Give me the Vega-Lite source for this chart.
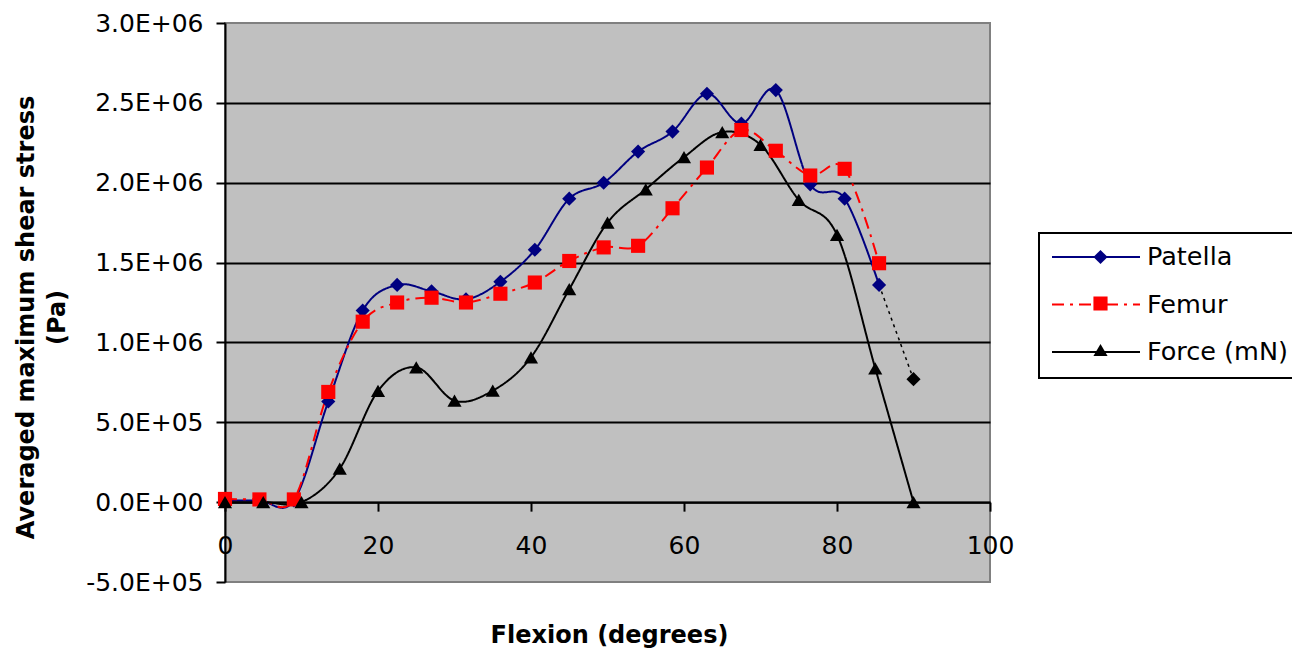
{
  "$schema": "https://vega.github.io/schema/vega-lite/v6.json",
  "width": 765,
  "height": 559,
  "autosize": {"type": "none"},
  "padding": {"left": 225, "top": 23, "right": 302, "bottom": 66},
  "background": "white",
  "config": {
    "font": "DejaVu Sans",
    "view": {"fill": "#C0C0C0", "stroke": "#808080", "strokeWidth": 2},
    "legend": {"strokeWidth": 2}
  },
  "datasets": {
    "series": [
      {"series": "Patella", "flexion": 0, "value": 10000},
      {"series": "Patella", "flexion": 4.5, "value": 10000},
      {"series": "Patella", "flexion": 9, "value": 10000},
      {"series": "Patella", "flexion": 13.5, "value": 630000},
      {"series": "Patella", "flexion": 18, "value": 1200000},
      {"series": "Patella", "flexion": 22.5, "value": 1360000},
      {"series": "Patella", "flexion": 27, "value": 1320000},
      {"series": "Patella", "flexion": 31.5, "value": 1270000},
      {"series": "Patella", "flexion": 36, "value": 1380000},
      {"series": "Patella", "flexion": 40.5, "value": 1580000},
      {"series": "Patella", "flexion": 45, "value": 1900000},
      {"series": "Patella", "flexion": 49.5, "value": 2000000},
      {"series": "Patella", "flexion": 54, "value": 2195000},
      {"series": "Patella", "flexion": 58.5, "value": 2320000},
      {"series": "Patella", "flexion": 63, "value": 2557000},
      {"series": "Patella", "flexion": 67.5, "value": 2370000},
      {"series": "Patella", "flexion": 72, "value": 2580000},
      {"series": "Patella", "flexion": 76.5, "value": 1990000},
      {"series": "Patella", "flexion": 81, "value": 1900000},
      {"series": "Patella", "flexion": 85.5, "value": 1360000},
      {"series": "Femur", "flexion": 0, "value": 20000},
      {"series": "Femur", "flexion": 4.5, "value": 17000},
      {"series": "Femur", "flexion": 9, "value": 17000},
      {"series": "Femur", "flexion": 13.5, "value": 690000},
      {"series": "Femur", "flexion": 18, "value": 1130000},
      {"series": "Femur", "flexion": 22.5, "value": 1250000},
      {"series": "Femur", "flexion": 27, "value": 1280000},
      {"series": "Femur", "flexion": 31.5, "value": 1250000},
      {"series": "Femur", "flexion": 36, "value": 1305000},
      {"series": "Femur", "flexion": 40.5, "value": 1375000},
      {"series": "Femur", "flexion": 45, "value": 1510000},
      {"series": "Femur", "flexion": 49.5, "value": 1595000},
      {"series": "Femur", "flexion": 54, "value": 1605000},
      {"series": "Femur", "flexion": 58.5, "value": 1840000},
      {"series": "Femur", "flexion": 63, "value": 2095000},
      {"series": "Femur", "flexion": 67.5, "value": 2330000},
      {"series": "Femur", "flexion": 72, "value": 2200000},
      {"series": "Femur", "flexion": 76.5, "value": 2045000},
      {"series": "Femur", "flexion": 81, "value": 2087000},
      {"series": "Femur", "flexion": 85.5, "value": 1496000},
      {"series": "Force (mN)", "flexion": 0, "value": 0},
      {"series": "Force (mN)", "flexion": 5, "value": 0},
      {"series": "Force (mN)", "flexion": 10, "value": 0},
      {"series": "Force (mN)", "flexion": 15, "value": 210000},
      {"series": "Force (mN)", "flexion": 20, "value": 696000},
      {"series": "Force (mN)", "flexion": 25, "value": 844000},
      {"series": "Force (mN)", "flexion": 30, "value": 635000},
      {"series": "Force (mN)", "flexion": 35, "value": 698000},
      {"series": "Force (mN)", "flexion": 40, "value": 907000},
      {"series": "Force (mN)", "flexion": 45, "value": 1333000},
      {"series": "Force (mN)", "flexion": 50, "value": 1750000},
      {"series": "Force (mN)", "flexion": 55, "value": 1959000},
      {"series": "Force (mN)", "flexion": 60, "value": 2160000},
      {"series": "Force (mN)", "flexion": 65, "value": 2317000},
      {"series": "Force (mN)", "flexion": 70, "value": 2237000},
      {"series": "Force (mN)", "flexion": 75, "value": 1892000},
      {"series": "Force (mN)", "flexion": 80, "value": 1673000},
      {"series": "Force (mN)", "flexion": 85, "value": 838000},
      {"series": "Force (mN)", "flexion": 90, "value": 0}
    ],
    "ext": [
      {"flexion": 85.5, "value": 1360000},
      {"flexion": 90, "value": 770000}
    ]
  },
  "layer": [
    {
      "data": {"name": "series"},
      "mark": {"type": "line", "interpolate": "cardinal", "tension": 0, "strokeWidth": 2},
      "encoding": {
        "x": {
          "field": "flexion", "type": "quantitative",
          "scale": {"domain": [0, 100], "nice": false, "zero": false},
          "axis": {
            "title": "Flexion (degrees)",
            "values": [0, 20, 40, 60, 80, 100],
            "offset": -79.857,
            "grid": false,
            "domainColor": "black", "domainWidth": 2,
            "tickColor": "black", "tickWidth": 2, "tickSize": 9,
            "labelFontSize": 25, "labelColor": "black", "labelFlush": false,
            "labelBaseline": "alphabetic", "labelPadding": 42,
            "titleFontSize": 24, "titleFontWeight": "bold", "titleColor": "black",
            "titleBaseline": "alphabetic", "titleAlign": "center", "titleX": 384, "titleY": 140
          }
        },
        "y": {
          "field": "value", "type": "quantitative",
          "scale": {"domain": [-500000, 3000000], "nice": false, "zero": false},
          "axis": {
            "title": ["Averaged maximum shear stress", "(Pa)"],
            "values": [-500000, 0, 500000, 1000000, 1500000, 2000000, 2500000, 3000000],
            "labelExpr": "replace(replace(replace(format(datum.value, '.1e'), 'e+', 'E+0'), 'e-', 'E-0'), '\u2212', '-')",
            "domainColor": "black", "domainWidth": 2,
            "tickColor": "black", "tickWidth": 2, "tickSize": 9,
            "labelFontSize": 25, "labelColor": "black", "labelPadding": 13, "labelFlush": false,
            "grid": true, "gridColor": "black", "gridWidth": 2,
            "gridOpacity": {"condition": {"test": "datum.value >= 3000000 || datum.value <= -500000", "value": 0}, "value": 1},
            "titleFontSize": 24, "titleFontWeight": "bold", "titleColor": "black",
            "titleBaseline": "alphabetic", "titleAlign": "center", "titleAngle": 270,
            "titleX": -191.5, "titleY": 294, "titleLineHeight": 31
          }
        },
        "stroke": {
          "field": "series", "type": "nominal",
          "scale": {"domain": ["Patella", "Femur", "Force (mN)"], "range": ["#000080", "#FF0000", "#000000"]},
          "legend": {
            "title": null, "orient": "none", "legendX": 814, "legendY": 210,
            "symbolType": "stroke", "symbolSize": 7744, "symbolStrokeWidth": 2,
            "labelFontSize": 25.5, "labelColor": "black", "labelOffset": 6, "labelLimit": 400,
            "clipHeight": 24, "rowPadding": 21.5, "padding": 12, "strokeColor": "black"
          }
        },
        "strokeDash": {
          "field": "series", "type": "nominal",
          "scale": {"domain": ["Patella", "Femur", "Force (mN)"], "range": [[1, 0], [12, 6, 3, 6], [1, 0]]},
          "legend": {
            "title": null, "orient": "none", "legendX": 814, "legendY": 210,
            "symbolType": "stroke", "symbolSize": 7744, "symbolStrokeWidth": 2,
            "labelFontSize": 25.5, "labelColor": "black", "labelOffset": 6, "labelLimit": 400,
            "clipHeight": 24, "rowPadding": 21.5, "padding": 12, "strokeColor": "black"
          }
        }
      }
    },
    {
      "data": {"name": "ext"},
      "mark": {"type": "line", "stroke": "black", "strokeWidth": 1.5, "strokeDash": [3, 4]},
      "encoding": {
        "x": {"field": "flexion", "type": "quantitative"},
        "y": {"field": "value", "type": "quantitative"}
      }
    },
    {
      "data": {"name": "series"},
      "mark": {"type": "point", "filled": true, "opacity": 1, "strokeWidth": 0, "size": 200},
      "encoding": {
        "x": {"field": "flexion", "type": "quantitative"},
        "y": {"field": "value", "type": "quantitative"},
        "fill": {
          "field": "series", "type": "nominal",
          "scale": {"range": ["#FF0000", "#000000", "#000080"]},
          "legend": {
            "title": null, "orient": "none", "legendX": 814, "legendY": 210,
            "values": ["Patella", "Femur", "Force (mN)"],
            "symbolSize": 200, "symbolStrokeWidth": 0, "symbolOpacity": 1,
            "labelFontSize": 25, "labelExpr": "''", "labelOffset": 8,
            "clipHeight": 24, "rowPadding": 21.5, "padding": 12, "symbolOffset": 37
          }
        },
        "shape": {
          "field": "series", "type": "nominal",
          "scale": {"range": ["square", "triangle-up", "diamond"]},
          "legend": {
            "title": null, "orient": "none", "legendX": 814, "legendY": 210,
            "values": ["Patella", "Femur", "Force (mN)"],
            "symbolSize": 200, "symbolStrokeWidth": 0, "symbolOpacity": 1,
            "labelFontSize": 25, "labelExpr": "''", "labelOffset": 8,
            "clipHeight": 24, "rowPadding": 21.5, "padding": 12, "symbolOffset": 37
          }
        }
      }
    },
    {
      "data": {"name": "ext"},
      "transform": [{"filter": "datum.flexion == 90"}],
      "mark": {"type": "point", "filled": true, "shape": "diamond", "size": 200, "color": "black", "opacity": 1},
      "encoding": {
        "x": {"field": "flexion", "type": "quantitative"},
        "y": {"field": "value", "type": "quantitative"}
      }
    }
  ]
}
